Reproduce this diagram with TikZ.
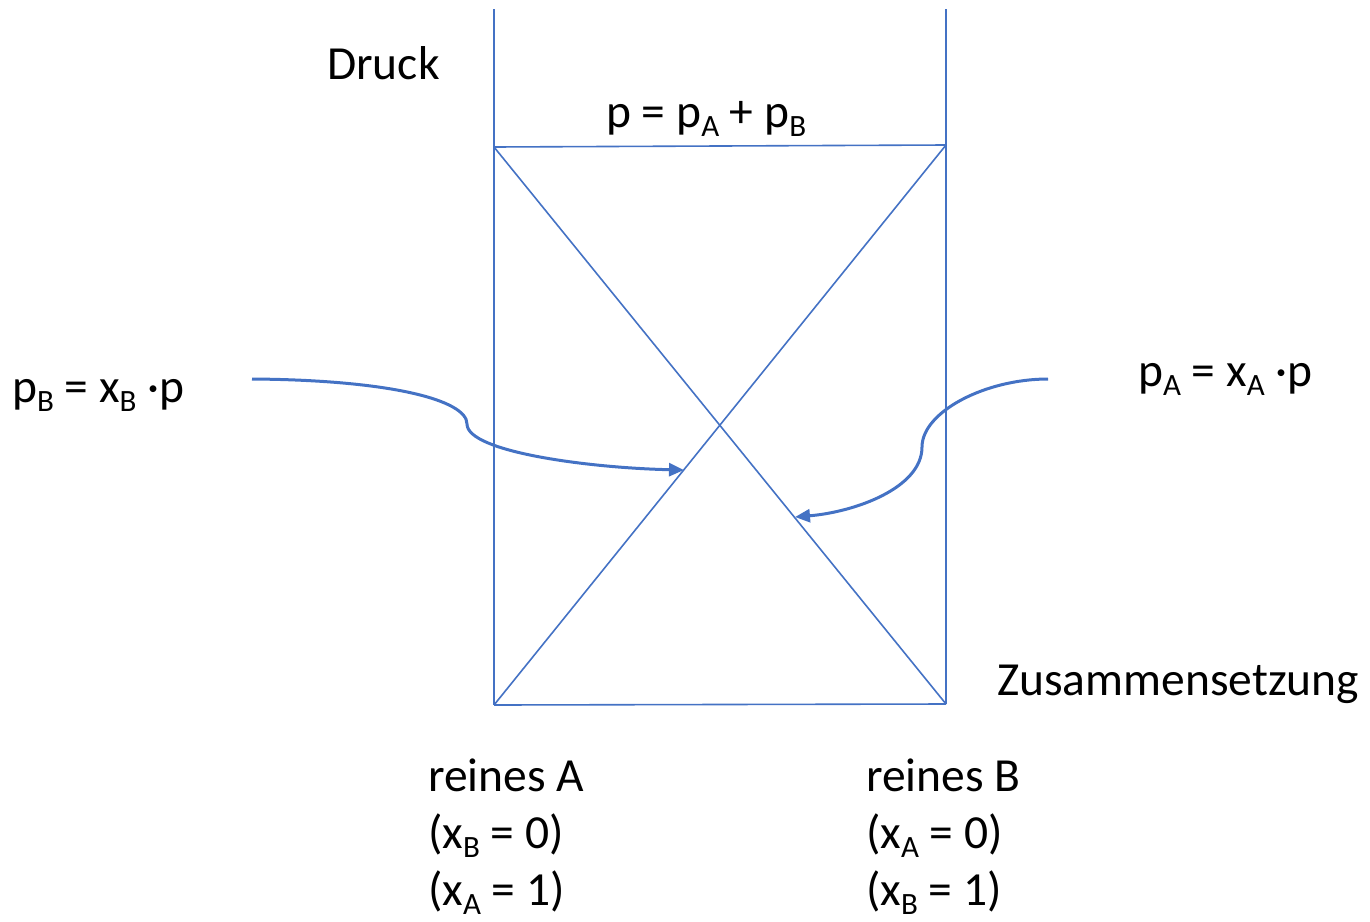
\documentclass[tikz,border=0pt]{standalone}
\usepackage{fontspec}
\setmainfont{Carlito}
\usetikzlibrary{arrows.meta}
\definecolor{office}{HTML}{4472C4}
\newcommand\sbs[1]{\raisebox{-9pt}{\fontsize{31}{31}\selectfont #1}}
\begin{document}
\begin{tikzpicture}[x=1pt,y=-1pt,
  frame/.style={draw=office,line width=1.6pt},
  curvearrow/.style={draw=office,line width=3pt,-{Triangle[length=15pt,width=13pt]}},
  lbl/.style={anchor=base west,inner sep=0pt,font=\fontsize{47.5}{57}\selectfont}]
\useasboundingbox (0,0) rectangle (1370,921);
% frame coordinates
\coordinate (lt) at (494,9);
\coordinate (rt) at (946,9);
\coordinate (tl) at (494,147);
\coordinate (tr) at (946,145);
\coordinate (bl) at (494,705);
\coordinate (br) at (946,704);
\draw[frame] (lt) -- (bl);
\draw[frame] (rt) -- (br);
\draw[frame] (tl) -- (tr);
\draw[frame] (bl) -- (br);
\draw[frame] (tl) -- (br);
\draw[frame] (bl) -- (tr);
% labels
\node[lbl] (druck) at (327,79) {Druck};
\node[lbl] (psum) at (606,127) {p = p\sbs{A} + p\sbs{B}};
\node[lbl] (pb) at (12,402) {p\sbs{B} = x\sbs{B} ·p};
\node[lbl] (pa) at (1138,386) {p\sbs{A} = x\sbs{A} ·p};
\node[lbl] (zus) at (997,695) {Zusammensetzung};
\node[lbl] (ra1) at (428,791) {reines A};
\node[lbl] (ra2) at (428,848) {(x\sbs{B} = 0)};
\node[lbl] (ra3) at (428,905) {(x\sbs{A} = 1)};
\node[lbl] (rb1) at (866,791) {reines B};
\node[lbl] (rb2) at (866,848) {(x\sbs{A} = 0)};
\node[lbl] (rb3) at (866,905) {(x\sbs{B} = 1)};
% arrows
\coordinate (sL) at (252,379);
\coordinate (mL) at (467,424);
\coordinate (eL) at (684,470);
\coordinate (sR) at (1048,379);
\coordinate (mR) at (922,447);
\coordinate (eR) at (795,517);
\draw[curvearrow] (sL) .. controls (390,380) and (467,400) .. (mL)
  .. controls (467,452) and (590,468) .. (eL);
\draw[curvearrow] (sR) .. controls (985,379) and (922,412) .. (mR)
  .. controls (922,488) and (855,512) .. (eR);
\end{tikzpicture}
\end{document}
